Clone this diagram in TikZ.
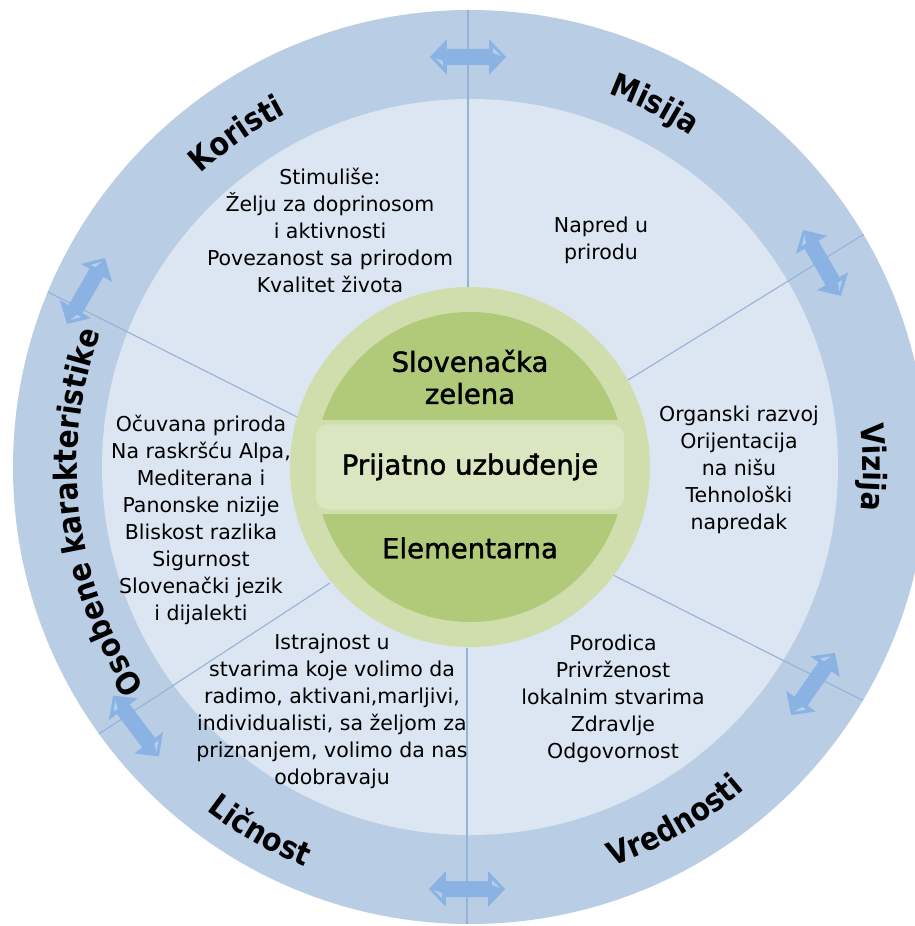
\documentclass[tikz,border=0pt]{standalone}
\usepackage{fontspec}
\setmainfont{DejaVu Sans}
\newfontfamily\lblfont{DejaVu Sans}[FakeStretch=0.88]
\newfontfamily\cfont{DejaVu Sans}[FakeBold=1.5]
\usetikzlibrary{decorations.text}
\definecolor{ringblue}{HTML}{B9CDE5}
\definecolor{discblue}{HTML}{DCE6F2}
\definecolor{lineblue}{HTML}{95B3D7}
\definecolor{greenlight}{HTML}{CFDEAC}
\definecolor{greendark}{HTML}{B0CA7A}
\definecolor{bandgreen}{HTML}{DAE6C0}
\definecolor{arrowblue}{HTML}{8AB2E3}
\definecolor{arrowlight}{HTML}{B4CEEE}
\begin{document}
\begin{tikzpicture}[x=1pt,y=1pt,
  bodytext/.style={align=center, font=\fontsize{20.5}{27}\selectfont, inner sep=0pt},
  ctext/.style={align=center, font=\cfont\fontsize{27.5}{32}\selectfont, inner sep=0pt},
  divider/.style={draw=lineblue, line width=1.1pt},
  ringlabel/.style={decorate, decoration={text along path, text align=center,
     text={|\lblfont\bfseries\fontsize{32}{32}\selectfont|#1}}},
  darrow/.pic={
    \fill[arrowblue] (-38,0) -- (-21,18) -- (-21,8) -- (21,8) -- (21,18)
      -- (38,0) -- (21,-18) -- (21,-8) -- (-21,-8) -- (-21,-18) -- cycle;
    \fill[arrowlight] (-33,-1) -- (-25,-9) -- (-25,-4) -- cycle;
    \fill[arrowlight] (33,1) -- (25,9) -- (25,4) -- cycle;
  }
]
\useasboundingbox (-470,-459) rectangle (445,467);
% rings
\fill[ringblue] (0,0) circle[radius=457pt];
\fill[discblue] (0,0) circle[radius=368pt];
% divider coordinates
\coordinate (t1) at (-2,180);   \coordinate (t2) at (-2,470);
\coordinate (b1) at (-3,-181);  \coordinate (b2) at (-3,-470);
\coordinate (ur1) at (158,87);  \coordinate (ur2) at (405.5,239.9);
\coordinate (lr1) at (143,-108); \coordinate (lr2) at (417,-245.5);
\coordinate (ll1) at (-140,-116); \coordinate (ll2) at (-385,-276);
\coordinate (ul1) at (-173,50);  \coordinate (ul2) at (-447,187.5);
\begin{scope}
  \clip (0,0) circle[radius=457pt];
  \draw[divider] (t1) -- (t2);
  \draw[divider] (b1) -- (b2);
  \draw[divider] (ur1) -- (ur2);
  \draw[divider] (lr1) -- (lr2);
  \draw[divider] (ll1) -- (ll2);
  \draw[divider] (ul1) -- (ul2);
\end{scope}
% arrows
\pic at (-2,410) {darrow};
\pic at (-3,-422) {darrow};
\pic[rotate=-60] at (352,204) {darrow};
\pic[rotate=55] at (343,-217) {darrow};
\pic[rotate=60] at (-384,176) {darrow};
\pic[rotate=-53] at (-334,-259) {darrow};
% ring labels
\path[ringlabel=Koristi] (155:398pt) arc[start angle=155, end angle=95, radius=398pt];
\path[ringlabel=Misija] (93:398pt) arc[start angle=93, end angle=33, radius=398pt];
\path[ringlabel=Vizija] (30:393pt) arc[start angle=30, end angle=-30, radius=393pt];
\path[ringlabel=Osobene karakteristike] (240:393pt) arc[start angle=240, end angle=134, radius=393pt];
\path[ringlabel=Ličnost] (210:433pt) arc[start angle=210, end angle=270, radius=433pt];
\path[ringlabel=Vrednosti] (270:424pt) arc[start angle=270, end angle=330, radius=424pt];
% center
\node[circle, fill=greenlight, minimum size=360pt, inner sep=0pt] (gring) at (0,0) {};
\node[circle, fill=greendark, minimum size=310pt, inner sep=0pt] (gcore) at (0,0) {};
\fill[greenlight] (-162,-47) rectangle (162,47);
\node[rounded corners=12pt, fill=bandgreen, minimum width=308pt, minimum height=85pt, inner sep=0pt,
      ctext] (band) at (0,0) {Prijatno uzbuđenje};
\node[ctext] (ctop) at (0,90) {Slovenačka\\zelena};
\node[ctext] (cbot) at (0,-81) {Elementarna};
% sector texts
\node[bodytext] (koristi) at (-140,237) {Stimuliše:\\Želju za doprinosom\\i aktivnosti\\Povezanost sa prirodom\\Kvalitet života};
\node[bodytext] (misija) at (131,226.5) {Napred u\\prirodu};
\node[bodytext] (vizija) at (269,-2.5) {Organski razvoj\\Orijentacija\\na nišu\\Tehnološki\\napredak};
\node[bodytext] (osobene) at (-269,-52.5) {Očuvana priroda\\Na raskršću Alpa,\\Mediterana i\\Panonske nizije\\Bliskost razlika\\Sigurnost\\Slovenački jezik\\i dijalekti};
\node[bodytext] (licnost) at (-138,-244.5) {Istrajnost u\\stvarima koje volimo da\\radimo, aktivani,marljivi,\\individualisti, sa željom za\\priznanjem, volimo da nas\\odobravaju};
\node[bodytext] (vrednosti) at (143,-232) {Porodica\\Privrženost\\lokalnim stvarima\\Zdravlje\\Odgovornost};
\end{tikzpicture}
\end{document}
